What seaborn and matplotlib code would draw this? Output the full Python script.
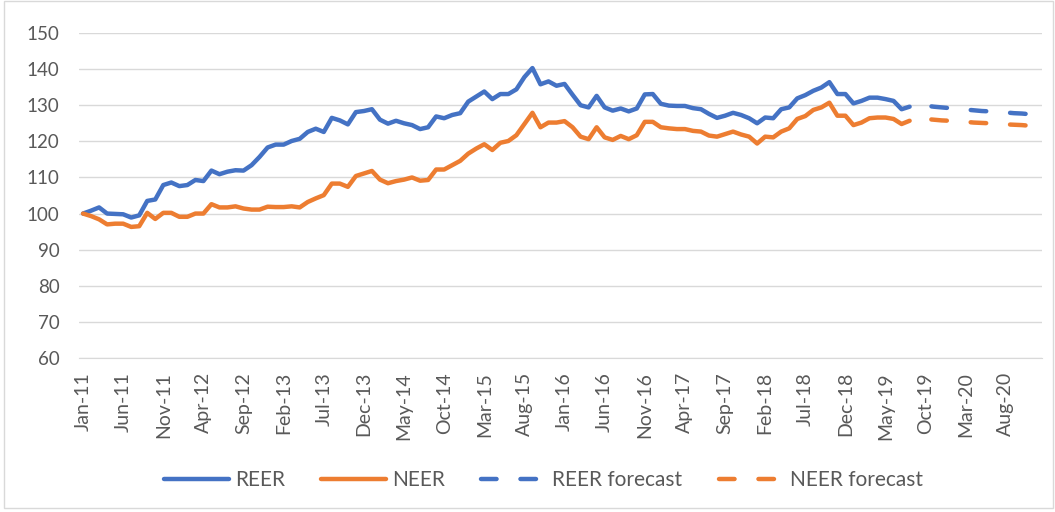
import numpy as np
import pandas as pd
import matplotlib.pyplot as plt
import seaborn as sns
from matplotlib.lines import Line2D
from matplotlib.patches import Rectangle

# Monthly category labels Jan-11 .. Dec-20
months = pd.date_range('2011-01-01', periods=120, freq='MS').strftime('%b-%y').tolist()

# Actual index values, Jan-11 .. Aug-19
reer = [100.0, 100.8, 101.7, 100.0, 99.9, 99.8, 98.9, 99.5, 103.5, 103.9,
        107.9, 108.6, 107.6, 107.9, 109.3, 109.0, 111.9, 110.9, 111.6, 112.0,
        111.9, 113.4, 115.7, 118.3, 119.1, 119.1, 120.1, 120.7, 122.6, 123.5,
        122.6, 126.5, 125.8, 124.7, 128.1, 128.4, 128.9, 126.0, 124.9, 125.7,
        125.0, 124.5, 123.4, 123.9, 126.9, 126.4, 127.3, 127.8, 131.0, 132.4,
        133.8, 131.7, 133.1, 133.1, 134.4, 137.8, 140.3, 135.8, 136.6, 135.4,
        135.9, 132.9, 130.0, 129.4, 132.6, 129.4, 128.5, 129.1, 128.3, 129.1,
        133.0, 133.1, 130.4, 129.9, 129.8, 129.8, 129.2, 128.9, 127.6, 126.5,
        127.1, 127.9, 127.3, 126.4, 125.0, 126.6, 126.4, 128.9, 129.4, 131.9,
        132.8, 134.0, 134.9, 136.4, 133.1, 133.1, 130.5, 131.2, 132.1, 132.1,
        131.7, 131.2, 128.9, 129.6]
neer = [100.0, 99.3, 98.4, 97.0, 97.2, 97.2, 96.3, 96.5, 100.2, 98.5,
        100.2, 100.2, 99.1, 99.1, 100.0, 100.0, 102.6, 101.7, 101.7, 102.0,
        101.4, 101.1, 101.1, 101.9, 101.8, 101.8, 102.0, 101.7, 103.2, 104.2,
        105.1, 108.3, 108.3, 107.4, 110.4, 111.1, 111.8, 109.4, 108.4, 109.0,
        109.4, 110.0, 109.1, 109.3, 112.2, 112.2, 113.4, 114.6, 116.6, 118.0,
        119.2, 117.6, 119.6, 120.1, 121.7, 124.8, 127.9, 123.9, 125.2, 125.2,
        125.6, 123.9, 121.3, 120.6, 123.9, 121.1, 120.4, 121.5, 120.6, 121.7,
        125.4, 125.4, 123.9, 123.6, 123.4, 123.4, 122.9, 122.7, 121.6, 121.3,
        122.0, 122.7, 121.9, 121.3, 119.4, 121.3, 121.1, 122.7, 123.6, 126.2,
        127.0, 128.7, 129.4, 130.7, 127.1, 127.1, 124.5, 125.2, 126.4, 126.6,
        126.6, 126.2, 124.8, 125.7]

# Forecast, Aug-19 .. Dec-20
reer_fc = [129.8, 130.0, 129.9, 129.6, 129.4, 129.2, 129.0, 128.8, 128.6,
           128.4, 128.3, 128.1, 128.0, 127.8, 127.7, 127.5, 127.4]
neer_fc = [125.8, 126.3, 126.2, 126.0, 125.8, 125.7, 125.5, 125.4, 125.2,
           125.1, 125.0, 124.9, 124.7, 124.6, 124.5, 124.3, 124.2]

pos = {m: i for i, m in enumerate(months)}
actual = pd.DataFrame({'month': months[:len(reer)], 'REER': reer, 'NEER': neer})
actual['pos'] = actual['month'].map(pos)
fc_start = months.index('Aug-19')
forecast = pd.DataFrame({'month': months[fc_start:fc_start + len(reer_fc)],
                         'REER': reer_fc, 'NEER': neer_fc})
forecast['pos'] = forecast['month'].map(pos)

BLUE = '#4472C4'
ORANGE = '#ED7D31'
GRID = '#D9D9D9'
TXT = '#595959'

sns.set_style('white')
plt.rcParams['font.family'] = ['Lato', 'DejaVu Sans']
plt.rcParams['lines.scale_dashes'] = False

fig = plt.figure(figsize=(10.55, 5.12), dpi=100)
ax = fig.add_axes([0.0749, 0.3008, 0.9128, 0.6347])

line_kw = dict(lw=3.2, solid_capstyle='round', solid_joinstyle='round')
sns.lineplot(data=actual, x='pos', y='REER', ax=ax, color=BLUE, **line_kw)
sns.lineplot(data=actual, x='pos', y='NEER', ax=ax, color=ORANGE, **line_kw)
dash_kw = dict(lw=3.2, linestyle=(12.6, (11.2, 17.2)), dash_capstyle='round')
sns.lineplot(data=forecast, x='pos', y='REER', ax=ax, color=BLUE, **dash_kw)
sns.lineplot(data=forecast, x='pos', y='NEER', ax=ax, color=ORANGE, **dash_kw)

ax.set_xlim(-0.5, len(months) - 0.5)
ax.set_ylim(60, 150)
ax.set_yticks(range(60, 151, 10))
ax.set_xticks(range(0, len(months), 5))
ax.set_xticklabels(months[::5], rotation=90)
ax.set_xlabel('')
ax.set_ylabel('')
ax.grid(axis='y', color=GRID, lw=1)
ax.set_axisbelow(True)
for s in ['left', 'right', 'top']:
    ax.spines[s].set_visible(False)
ax.spines['bottom'].set_color(GRID)
ax.tick_params(axis='y', length=0, pad=14, labelsize=13.5, labelcolor=TXT)
ax.tick_params(axis='x', length=0, pad=10, labelsize=14, labelcolor=TXT)

handles = [
    Line2D([], [], color=BLUE, lw=3.2, solid_capstyle='round'),
    Line2D([], [], color=ORANGE, lw=3.2, solid_capstyle='round'),
    Line2D([], [], color=BLUE, lw=3.2, linestyle=(0, (11.2, 17.2)), dash_capstyle='round'),
    Line2D([], [], color=ORANGE, lw=3.2, linestyle=(0, (11.2, 17.2)), dash_capstyle='round'),
]
fig.legend(handles, ['REER', 'NEER', 'REER forecast', 'NEER forecast'],
           loc='center', bbox_to_anchor=(0.515, 1 - 480 / 512), ncol=4,
           frameon=False, fontsize=15, labelcolor=TXT,
           handlelength=3.1, handletextpad=0.3, columnspacing=1.75)

fig.patches.append(Rectangle((0.004, 0.008), 0.994, 0.99, transform=fig.transFigure,
                             fill=False, ec=GRID, lw=1))

fig.savefig('out.png', dpi=100)
